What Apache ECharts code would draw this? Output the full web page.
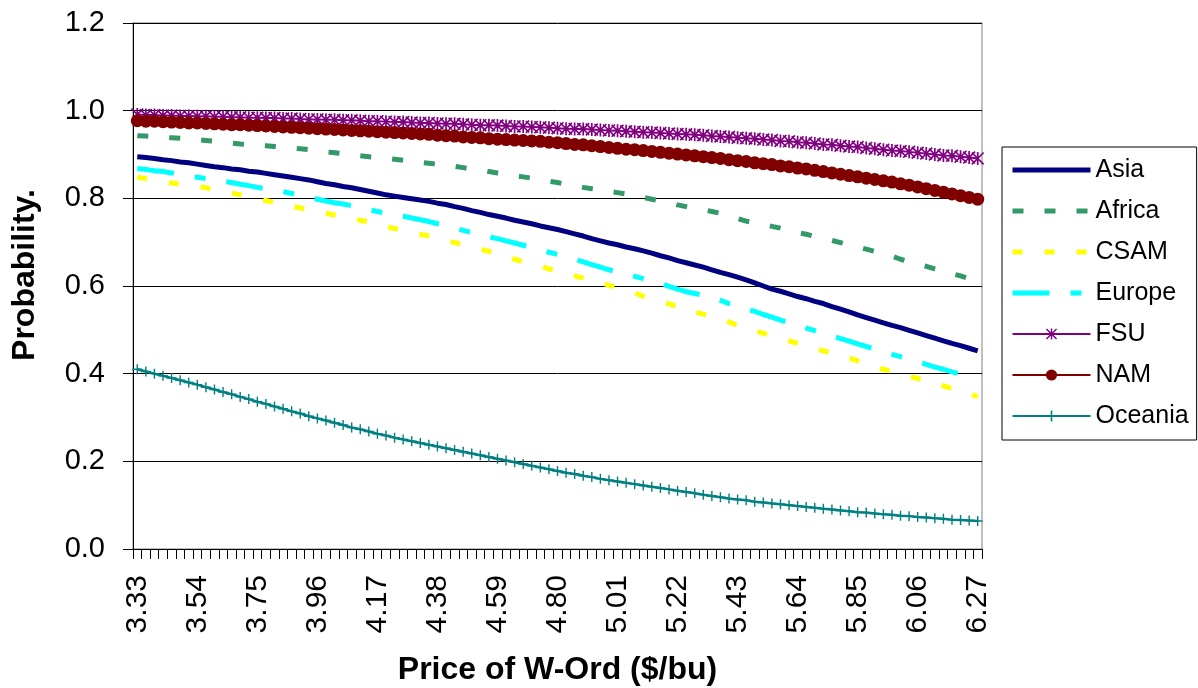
<!DOCTYPE html>
<html>
<head>
<meta charset="utf-8">
<title>Probability vs Price of W-Ord</title>
<script src="https://cdn.jsdelivr.net/npm/echarts@6/dist/echarts.min.js"></script>
<style>
  html, body { margin: 0; padding: 0; background: #ffffff; }
  #chart { width: 1198px; height: 688px; }
</style>
</head>
<body>
<div id="chart"></div>
<script>
// Price points ($/bu), one every 0.03
const prices = [
  '3.33','3.36','3.39','3.42','3.45','3.48','3.51','3.54','3.57','3.60',
  '3.63','3.66','3.69','3.72','3.75','3.78','3.81','3.84','3.87','3.90',
  '3.93','3.96','3.99','4.02','4.05','4.08','4.11','4.14','4.17','4.20',
  '4.23','4.26','4.29','4.32','4.35','4.38','4.41','4.44','4.47','4.50',
  '4.53','4.56','4.59','4.62','4.65','4.68','4.71','4.74','4.77','4.80',
  '4.83','4.86','4.89','4.92','4.95','4.98','5.01','5.04','5.07','5.10',
  '5.13','5.16','5.19','5.22','5.25','5.28','5.31','5.34','5.37','5.40',
  '5.43','5.46','5.49','5.52','5.55','5.58','5.61','5.64','5.67','5.70',
  '5.73','5.76','5.79','5.82','5.85','5.88','5.91','5.94','5.97','6.00',
  '6.03','6.06','6.09','6.12','6.15','6.18','6.21','6.24','6.27'
];

const asia = [
  0.895,0.893,0.891,0.888,0.886,0.883,0.881,0.878,0.875,0.872,
  0.870,0.867,0.865,0.862,0.860,0.857,0.854,0.851,0.848,0.845,
  0.842,0.838,0.834,0.831,0.827,0.824,0.820,0.816,0.812,0.808,
  0.805,0.802,0.799,0.796,0.793,0.789,0.786,0.781,0.777,0.772,
  0.768,0.763,0.759,0.755,0.750,0.746,0.742,0.737,0.733,0.729,
  0.724,0.719,0.714,0.708,0.703,0.698,0.694,0.689,0.685,0.680,
  0.675,0.669,0.664,0.658,0.653,0.648,0.643,0.637,0.631,0.626,
  0.620,0.614,0.607,0.600,0.593,0.588,0.582,0.576,0.571,0.565,
  0.560,0.553,0.547,0.541,0.534,0.528,0.522,0.516,0.510,0.505,
  0.499,0.493,0.487,0.481,0.475,0.469,0.464,0.458,0.452
];

const africa = [
  0.943,0.942,0.941,0.939,0.938,0.937,0.935,0.934,0.932,0.930,
  0.928,0.926,0.924,0.923,0.921,0.920,0.918,0.916,0.915,0.913,
  0.911,0.909,0.906,0.904,0.902,0.900,0.897,0.895,0.893,0.891,
  0.889,0.887,0.885,0.882,0.880,0.878,0.875,0.873,0.870,0.867,
  0.864,0.861,0.858,0.855,0.852,0.849,0.846,0.843,0.839,0.836,
  0.832,0.829,0.825,0.822,0.819,0.816,0.813,0.810,0.806,0.802,
  0.798,0.794,0.790,0.785,0.781,0.777,0.774,0.770,0.766,0.760,
  0.754,0.748,0.744,0.740,0.736,0.732,0.727,0.722,0.718,0.713,
  0.708,0.704,0.699,0.694,0.689,0.684,0.679,0.674,0.668,0.661,
  0.655,0.650,0.645,0.639,0.634,0.628,0.623,0.617,0.612
];

const csam = [
  0.848,0.845,0.841,0.838,0.835,0.832,0.830,0.827,0.824,0.820,
  0.816,0.812,0.808,0.804,0.799,0.795,0.791,0.787,0.782,0.778,
  0.774,0.770,0.766,0.762,0.758,0.754,0.750,0.746,0.741,0.736,
  0.731,0.727,0.723,0.718,0.714,0.709,0.704,0.699,0.694,0.689,
  0.684,0.679,0.674,0.668,0.661,0.655,0.650,0.645,0.639,0.634,
  0.629,0.623,0.618,0.613,0.607,0.602,0.596,0.590,0.584,0.577,
  0.571,0.565,0.559,0.553,0.547,0.541,0.536,0.530,0.525,0.518,
  0.510,0.503,0.498,0.492,0.487,0.481,0.475,0.469,0.463,0.457,
  0.452,0.447,0.441,0.436,0.429,0.422,0.415,0.410,0.405,0.399,
  0.394,0.389,0.383,0.378,0.372,0.366,0.360,0.354,0.348
];

const europe = [
  0.868,0.866,0.863,0.861,0.858,0.854,0.851,0.848,0.845,0.842,
  0.839,0.836,0.832,0.829,0.825,0.822,0.818,0.815,0.811,0.807,
  0.802,0.798,0.794,0.790,0.787,0.783,0.779,0.774,0.770,0.766,
  0.762,0.759,0.755,0.751,0.747,0.742,0.737,0.732,0.727,0.722,
  0.717,0.712,0.708,0.703,0.698,0.693,0.688,0.683,0.677,0.672,
  0.667,0.661,0.655,0.649,0.643,0.637,0.632,0.627,0.622,0.617,
  0.612,0.606,0.599,0.593,0.587,0.583,0.579,0.573,0.567,0.560,
  0.554,0.548,0.542,0.535,0.529,0.522,0.516,0.510,0.504,0.498,
  0.492,0.486,0.480,0.474,0.468,0.462,0.456,0.450,0.444,0.439,
  0.433,0.427,0.421,0.415,0.410,0.404,0.399,0.393,0.387
];

const fsu = [
  0.991,0.990,0.990,0.989,0.989,0.988,0.988,0.987,0.987,0.986,
  0.986,0.985,0.985,0.984,0.984,0.983,0.983,0.982,0.982,0.981,
  0.980,0.980,0.979,0.979,0.978,0.978,0.977,0.976,0.976,0.975,
  0.974,0.974,0.973,0.972,0.972,0.971,0.970,0.970,0.969,0.968,
  0.967,0.967,0.966,0.965,0.964,0.964,0.963,0.962,0.961,0.960,
  0.959,0.958,0.958,0.957,0.956,0.955,0.954,0.953,0.952,0.951,
  0.950,0.949,0.948,0.947,0.946,0.945,0.944,0.942,0.941,0.940,
  0.938,0.937,0.936,0.934,0.933,0.931,0.930,0.928,0.927,0.925,
  0.923,0.922,0.920,0.918,0.917,0.915,0.913,0.911,0.909,0.908,
  0.906,0.904,0.902,0.900,0.898,0.897,0.895,0.893,0.891
];

const nam = [
  0.977,0.976,0.976,0.975,0.974,0.973,0.972,0.972,0.971,0.970,
  0.969,0.968,0.968,0.967,0.966,0.965,0.964,0.963,0.962,0.961,
  0.960,0.959,0.958,0.957,0.956,0.955,0.954,0.953,0.952,0.951,
  0.950,0.949,0.948,0.947,0.946,0.944,0.943,0.942,0.940,0.939,
  0.938,0.936,0.935,0.934,0.933,0.932,0.931,0.930,0.928,0.927,
  0.925,0.923,0.922,0.920,0.918,0.916,0.914,0.912,0.911,0.909,
  0.907,0.905,0.903,0.901,0.899,0.897,0.895,0.893,0.891,0.888,
  0.886,0.884,0.881,0.879,0.877,0.874,0.872,0.869,0.867,0.864,
  0.861,0.858,0.855,0.852,0.849,0.846,0.843,0.840,0.837,0.833,
  0.830,0.826,0.822,0.818,0.814,0.810,0.806,0.802,0.798
];

const oceania = [
  0.410,0.405,0.400,0.395,0.390,0.385,0.380,0.375,0.369,0.364,
  0.358,0.353,0.347,0.342,0.336,0.331,0.325,0.320,0.314,0.309,
  0.303,0.298,0.293,0.288,0.283,0.277,0.273,0.268,0.263,0.259,
  0.254,0.250,0.246,0.242,0.238,0.234,0.230,0.226,0.222,0.218,
  0.214,0.210,0.206,0.202,0.198,0.194,0.190,0.186,0.182,0.178,
  0.174,0.171,0.167,0.164,0.160,0.157,0.154,0.151,0.148,0.145,
  0.142,0.139,0.136,0.133,0.130,0.127,0.124,0.121,0.118,0.115,
  0.113,0.111,0.108,0.106,0.104,0.102,0.100,0.098,0.096,0.094,
  0.092,0.090,0.088,0.086,0.084,0.083,0.081,0.079,0.078,0.076,
  0.075,0.073,0.072,0.070,0.069,0.067,0.066,0.065,0.064
];

const FONT = '"Liberation Sans", Arial, sans-serif';

// marker shapes: six-armed asterisk and plus sign
const STAR = 'path://M4.35 0 L5.65 0 L5.65 10 L4.35 10 Z ' +
             'M0 0.9 L0.9 0 L10 9.1 L9.1 10 Z ' +
             'M9.1 0 L10 0.9 L0.9 10 L0 9.1 Z';
const PLUS = 'path://M4.3 0 L5.7 0 L5.7 4.3 L10 4.3 L10 5.7 L5.7 5.7 L5.7 10 ' +
             'L4.3 10 L4.3 5.7 L0 5.7 L0 4.3 L4.3 4.3 Z';

function plain(name, data, color, width, dash) {
  return {
    name, type: 'line', data,
    symbol: 'none',
    lineStyle: { color, width, type: dash || 'solid', cap: 'butt' },
    itemStyle: { color },
    z: 2
  };
}
function marked(name, data, color, width, symbol, size) {
  return {
    name, type: 'line', data,
    symbol, symbolSize: size, showAllSymbol: true,
    lineStyle: { color, width },
    itemStyle: { color, borderWidth: 0 },
    z: 3
  };
}

// legend entries: dashed/solid lines carry no marker
function lineEntry(name, width) {
  return { name, itemStyle: { opacity: 0 }, lineStyle: { width } };
}

const chart = echarts.init(document.getElementById('chart'), null, { renderer: 'canvas' });

chart.setOption({
  animation: false,
  backgroundColor: '#ffffff',
  textStyle: { fontFamily: FONT, color: '#000' },
  grid: {
    left: 133, right: 216, top: 23, bottom: 139,
    outerBoundsMode: 'none',
    containLabel: false,
    show: true, borderColor: '#808080', borderWidth: 1,
    backgroundColor: 'transparent'
  },
  legend: {
    orient: 'vertical',
    left: 1002, top: 147,
    width: 195,
    padding: [9, 8, 10, 8],
    borderColor: '#000', borderWidth: 1,
    itemWidth: 78, itemHeight: 14, itemGap: 13,
    textStyle: { fontFamily: FONT, fontSize: 25, color: '#000', lineHeight: 28 },
    data: [
      lineEntry('Asia', 5),
      lineEntry('Africa', 5),
      lineEntry('CSAM', 5),
      lineEntry('Europe', 5),
      { name: 'FSU', lineStyle: { width: 2 } },
      { name: 'NAM', lineStyle: { width: 2 } },
      { name: 'Oceania', lineStyle: { width: 2 } }
    ]
  },
  xAxis: {
    type: 'category',
    data: prices,
    boundaryGap: true,
    name: 'Price of W-Ord ($/bu)',
    nameLocation: 'middle',
    nameGap: 105,
    nameTextStyle: { fontFamily: FONT, fontSize: 32, fontWeight: 'bold', color: '#000' },
    axisLine: { lineStyle: { color: '#000', width: 1 } },
    axisTick: { show: true, interval: 0, length: 10, lineStyle: { color: '#000' } },
    axisLabel: {
      interval: 6, rotate: 90, margin: 26,
      fontFamily: FONT, fontSize: 30, color: '#000'
    },
    splitLine: { show: false }
  },
  yAxis: {
    type: 'value',
    min: 0, max: 1.2, interval: 0.2,
    name: 'Probability.',
    nameLocation: 'middle',
    nameGap: 92,
    nameTextStyle: {
      fontFamily: FONT, fontSize: 32, fontWeight: 'bold', color: '#000',
      padding: [0, 0, 0, 22]
    },
    axisLine: { show: true, lineStyle: { color: '#000', width: 1 } },
    axisTick: { show: true, length: 10, lineStyle: { color: '#000' } },
    axisLabel: {
      margin: 28, fontFamily: FONT, fontSize: 29, color: '#000',
      formatter: v => v.toFixed(1)
    },
    splitLine: { show: true, lineStyle: { color: '#000', width: 1 } }
  },
  series: [
    plain('Asia', asia, '#000080', 5),
    plain('Africa', africa, '#339966', 5, [11, 21]),
    plain('CSAM', csam, '#FFFF00', 5, [10, 22]),
    plain('Europe', europe, '#00FFFF', 5, [37, 21, 11, 21]),
    marked('FSU', fsu, '#800080', 2, STAR, 13),
    marked('NAM', nam, '#800000', 2, 'circle', 13),
    marked('Oceania', oceania, '#008080', 2.5, PLUS, 10)
  ]
});
</script>
</body>
</html>
